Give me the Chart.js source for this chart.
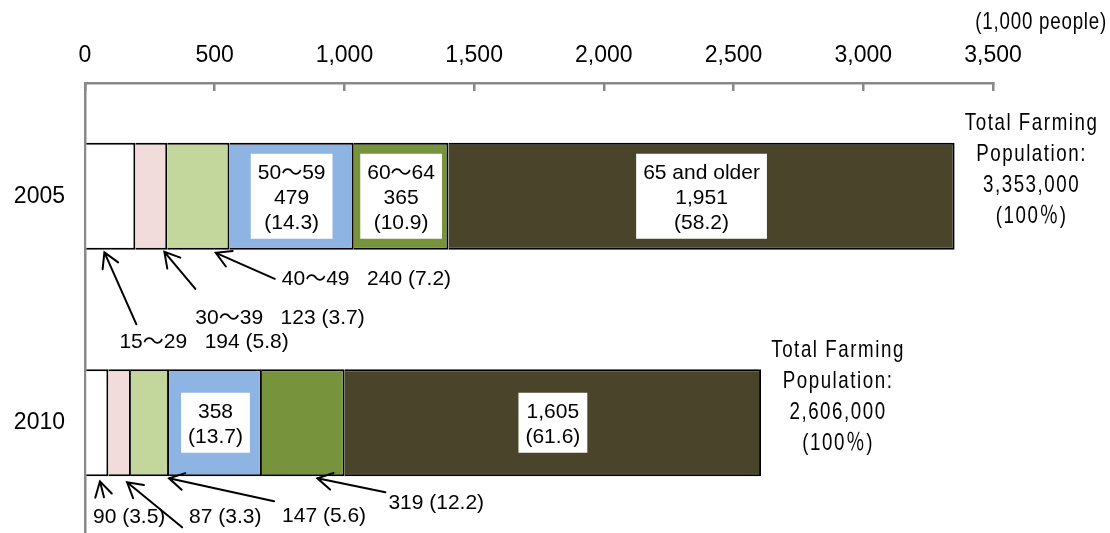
<!DOCTYPE html>
<html>
<head>
<meta charset="utf-8">
<script src="https://cdn.jsdelivr.net/npm/chart.js@4.4.0/dist/chart.umd.min.js"></script>
<style>
  html, body { margin: 0; padding: 0; background: #fff; overflow: hidden; }
  #wrap { width: 1110px; height: 533px; overflow: hidden; }
</style>
</head>
<body>
<div id="wrap"><canvas id="farmChart" width="1110" height="537"></canvas></div>
<script>
// farming population by age group, 1,000 people
const years = ['2005', '2010'];
const ageGroups = ['15～29', '30～39', '40～49', '50～59', '60～64', '65 and older'];
const pop2005 = [194, 123, 240, 479, 365, 1951];
const pop2010 = [90, 87, 147, 358, 319, 1605];
const share2005 = [5.8, 3.7, 7.2, 14.3, 10.9, 58.2];
const share2010 = [3.5, 3.3, 5.6, 13.7, 12.2, 61.6];
const totalLabels = ['3,353,000', '2,606,000'];
const xTicks = [0, 500, 1000, 1500, 2000, 2500, 3000, 3500];
const unitLabel = '(1,000 people)';

const groupColors = ['#ffffff', '#f2dcdb', '#c3d69b', '#8eb4e3', '#77933c', '#4a452a'];
const FONT = '"Liberation Sans", Arial, "Noto Sans CJK JP", sans-serif';

const pops = [pop2005, pop2010];
const shares = [share2005, share2010];
const fmt = v => v.toLocaleString('en-US');
const pct = v => '(' + v.toFixed(1) + ')';

// segments that get a white label box inside the bar
const boxedNotes = [
  { year: 0, group: 3, name: true },
  { year: 0, group: 4, name: true },
  { year: 0, group: 5, name: true },
  { year: 1, group: 3, name: false },
  { year: 1, group: 5, name: false }
];

// segments labelled with an arrow below the bar (layout offsets in px)
const arrowNotes = [
  { year: 0, group: 0, name: true, frac: 0.37, tipDy: 2.5, tail: [32, 72], text: [15, 90] },
  { year: 0, group: 1, name: true, frac: 0.91, tipDy: 2, tail: [31, 37], text: [31, 66] },
  { year: 0, group: 2, name: true, frac: 0.78, tipDy: 3, tail: [59, 26], text: [66, 26] },
  { year: 1, group: 0, name: false, frac: 0.62, tipDy: 5, tail: [4, 16], text: [-7, 36] },
  { year: 1, group: 1, name: false, frac: 0.83, tipDy: 6, tail: [55, 45], text: [62, 35] },
  { year: 1, group: 2, name: false, frac: 1.0, tipDy: 2, tail: [105, 23], text: [113, 38] },
  { year: 1, group: 4, name: false, frac: 0.67, tipDy: 2, tail: [68, 14], text: [71, 25] }
];

function segmentBox(chart, yi, g) {
  const p = chart.getDatasetMeta(g).data[yi].getProps(['x', 'y', 'base', 'height'], true);
  return {
    left: Math.min(p.x, p.base), right: Math.max(p.x, p.base),
    top: p.y - p.height / 2, bottom: p.y + p.height / 2, cy: p.y
  };
}

function drawArrow(ctx, x1, y1, x2, y2) {
  const a = Math.atan2(y2 - y1, x2 - x1);
  const len = 17, spread = Math.PI / 6;
  ctx.beginPath();
  ctx.moveTo(x1, y1);
  ctx.lineTo(x2, y2);
  ctx.moveTo(x2 - len * Math.cos(a - spread), y2 - len * Math.sin(a - spread));
  ctx.lineTo(x2, y2);
  ctx.lineTo(x2 - len * Math.cos(a + spread), y2 - len * Math.sin(a + spread));
  ctx.stroke();
}

// condensed text: squeeze horizontally like the narrow font in the original
function narrowText(ctx, text, x, y, align) {
  ctx.save();
  ctx.translate(x, y);
  ctx.scale(0.78, 1);
  ctx.textAlign = align;
  ctx.fillText(text, 0, 0);
  ctx.restore();
}

const notesPlugin = {
  id: 'notes',
  afterDatasetsDraw(chart) {
    const ctx = chart.ctx;
    const xs = chart.scales.x;
    ctx.save();

    // white boxes inside the bars
    ctx.font = '21px ' + FONT;
    ctx.textAlign = 'center';
    ctx.textBaseline = 'middle';
    boxedNotes.forEach(n => {
      const s = segmentBox(chart, n.year, n.group);
      const lines = [];
      if (n.name) lines.push(ageGroups[n.group]);
      lines.push(fmt(pops[n.year][n.group]), pct(shares[n.year][n.group]));
      const w = Math.max(...lines.map(t => ctx.measureText(t).width)) + 14;
      const lh = 25;
      const h = lines.length * lh + 10;
      const cx = (s.left + s.right) / 2;
      ctx.fillStyle = '#ffffff';
      ctx.fillRect(cx - w / 2, s.cy - h / 2, w, h);
      ctx.fillStyle = '#000000';
      lines.forEach((t, i) => {
        ctx.fillText(t, cx, s.cy - (lines.length - 1) * lh / 2 + i * lh + 2);
      });
    });

    // arrow call-outs under the bars
    ctx.strokeStyle = '#000000';
    ctx.lineWidth = 2;
    ctx.lineCap = 'round';
    ctx.textAlign = 'left';
    arrowNotes.forEach(n => {
      const s = segmentBox(chart, n.year, n.group);
      const tipX = s.left + n.frac * (s.right - s.left);
      const tipY = s.bottom + n.tipDy;
      drawArrow(ctx, tipX + n.tail[0], tipY + n.tail[1], tipX, tipY);
      let label = fmt(pops[n.year][n.group]) + ' ' + pct(shares[n.year][n.group]);
      if (n.name) label = ageGroups[n.group] + '   ' + label;
      ctx.fillText(label, tipX + n.text[0], tipY + n.text[1]);
    });

    // totals to the right of each bar
    ctx.font = '24px ' + FONT;
    ctx.letterSpacing = '2px';
    years.forEach((y, yi) => {
      const total = pops[yi].reduce((a, b) => a + b, 0);
      const x = xs.getPixelForValue(total) + 77;
      const cy = segmentBox(chart, yi, 5).cy - 26;
      const lines = ['Total Farming', 'Population:', totalLabels[yi], '(100％)'];
      lines.forEach((t, i) => narrowText(ctx, t, x, cy + (i - 1.5) * 31, 'center'));
    });

    // unit
    ctx.letterSpacing = '1px';
    narrowText(ctx, unitLabel, chart.width - 3, 22, 'right');
    ctx.restore();
  }
};

new Chart(document.getElementById('farmChart'), {
  type: 'bar',
  data: {
    labels: years,
    datasets: ageGroups.map((g, i) => ({
      label: g,
      data: [pop2005[i], pop2010[i]],
      backgroundColor: groupColors[i],
      borderColor: '#000000',
      borderWidth: 2,
      categoryPercentage: 0.473,
      barPercentage: 1
    }))
  },
  options: {
    indexAxis: 'y',
    responsive: false,
    animation: false,
    layout: { padding: { left: 0, top: 0, right: 117, bottom: 1 } },
    plugins: { legend: { display: false }, tooltip: { enabled: false } },
    scales: {
      x: {
        position: 'top',
        stacked: true,
        min: 0,
        max: 3500,
        afterBuildTicks: s => { s.ticks = xTicks.map(v => ({ value: v })); },
        afterFit: s => { s.height = 83; },
        ticks: {
          font: { family: FONT, size: 23 },
          color: '#000000',
          padding: 22,
          autoSkip: false,
          maxRotation: 0,
          callback: v => fmt(v)
        },
        grid: { drawOnChartArea: false, drawTicks: true, tickLength: -8, color: '#898989', lineWidth: 2.5 },
        border: { color: '#898989', width: 2.5 }
      },
      y: {
        stacked: true,
        afterFit: s => { s.width = 85; s.paddingTop = 0; s.paddingBottom = 0; },
        ticks: { font: { family: FONT, size: 23 }, color: '#000000', padding: 20 },
        grid: { drawOnChartArea: false, drawTicks: false },
        border: { color: '#898989', width: 2.5 }
      }
    }
  },
  plugins: [notesPlugin]
});
</script>
</body>
</html>
